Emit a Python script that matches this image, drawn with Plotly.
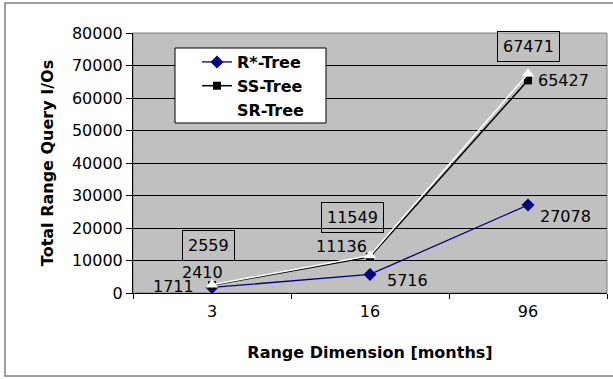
import plotly.graph_objects as go

categories = ["3", "16", "96"]
rstar = [1711, 5716, 27078]
sstree = [2410, 11136, 65427]
srtree = [2559, 11549, 67471]
series_names = ["R*-Tree", "SS-Tree", "SR-Tree"]
y_ticks = [0, 10000, 20000, 30000, 40000, 50000, 60000, 70000, 80000]

FONT = "DejaVu Sans"
fig = go.Figure()

fig.add_trace(go.Scatter(
    x=categories, y=rstar, name=series_names[0], mode="lines+markers",
    line=dict(color="#000080", width=1.3),
    marker=dict(symbol="diamond", size=10, color="#000080"),
))
fig.add_trace(go.Scatter(
    x=categories, y=sstree, name=series_names[1], mode="lines+markers",
    line=dict(color="black", width=1.5),
    marker=dict(symbol="square", size=8, color="black"),
))
fig.add_trace(go.Scatter(
    x=categories, y=srtree, name=series_names[2], mode="lines+markers",
    line=dict(color="white", width=1.5),
    marker=dict(symbol="triangle-up", size=11, color="white"),
))

# data labels (x given as category index)
label_offsets = {
    0: [(-39, 1), (37, -6), (37, -11)],
    1: [(-10, 13), (-29, 10), (35, 0)],
    2: [(-4, 39), (-18, 38), (0, 27)],
}
data = [rstar, sstree, srtree]
for s, vals in enumerate(data):
    for i, v in enumerate(vals):
        dx, dy = label_offsets[s][i]
        boxed = s == 2
        fig.add_annotation(
            x=i, y=v, xref="x", yref="y", text=str(v),
            showarrow=False, xshift=dx, yshift=dy,
            font=dict(family=FONT, size=16, color="black"),
            bordercolor="black" if boxed else "rgba(0,0,0,0)",
            borderwidth=1 if boxed else 0, borderpad=5,
        )

# plot area border, legend box and outer frame
fig.add_shape(type="rect", xref="paper", yref="paper", x0=0, y0=0, x1=1, y1=1,
              line=dict(color="#808080", width=1), layer="below")
fig.add_shape(type="rect", xref="paper", yref="paper",
              x0=(175 - 133) / 474, x1=(326 - 133) / 474,
              y0=(293 - 123) / 260, y1=(293 - 48) / 260,
              line=dict(color="black", width=1), fillcolor="white", layer="above")
fig.add_shape(type="rect", xref="paper", yref="paper",
              x0=(5 - 133) / 474, x1=(640 - 133) / 474,
              y0=(293 - 376) / 260, y1=(293 - 3) / 260,
              line=dict(color="#808080", width=1.5), layer="below")

fig.update_layout(
    width=613, height=379,
    margin=dict(l=133, r=6, t=33, b=86),
    paper_bgcolor="white", plot_bgcolor="#c0c0c0",
    font=dict(family=FONT, size=16, color="black"),
    legend=dict(
        x=(197 - 133) / 474, y=(293 - 45) / 260, xanchor="left", yanchor="top",
        bgcolor="rgba(0,0,0,0)", borderwidth=0,
        font=dict(family=FONT, size=16, color="black", weight="bold"),
        tracegroupgap=0, itemwidth=30,
    ),
    xaxis=dict(
        type="category", tickson="boundaries", ticks="outside", ticklen=5,
        tickcolor="black", showline=True, linecolor="black", linewidth=1,
        showgrid=False, tickfont=dict(family=FONT, size=16), ticklabelstandoff=4,
        title=dict(text="Range Dimension [months]", standoff=26,
                   font=dict(family=FONT, size=16, weight="bold")),
        range=[-0.5, 2.5],
    ),
    yaxis=dict(
        range=[0, 80000], tickvals=y_ticks, tickformat="d", ticks="outside", ticklen=6,
        tickcolor="black", showline=True, linecolor="black", linewidth=1,
        showgrid=True, gridcolor="black", gridwidth=1, zeroline=False,
        tickfont=dict(family=FONT, size=16),
        title=dict(text="Total Range Query I/Os", standoff=14,
                   font=dict(family=FONT, size=16, weight="bold")),
    ),
)

fig.write_html("out.html")
